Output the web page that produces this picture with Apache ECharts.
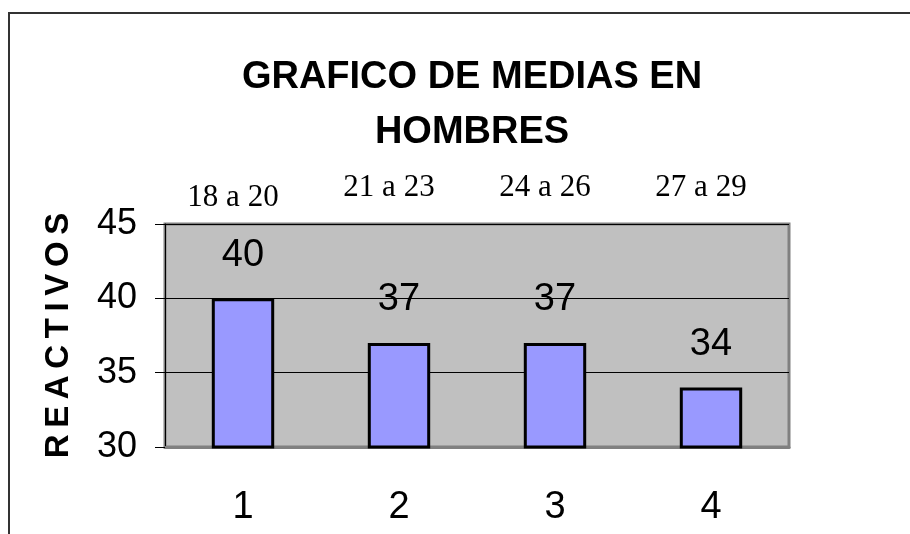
<!DOCTYPE html>
<html>
<head>
<meta charset="utf-8">
<script src="https://cdn.jsdelivr.net/npm/echarts@6/dist/echarts.min.js"></script>
<style>
  html, body { margin: 0; padding: 0; background: #fff; }
  #chart { width: 910px; height: 534px; }
</style>
</head>
<body>
<div id="chart"></div>
<script>
// datos
var categorias = ['1', '2', '3', '4']
var edades = ['18 a 20', '21 a 23', '24 a 26', '27 a 29']
var medias = [40, 37, 37, 34]

var sans = 'Arial, "Liberation Sans", sans-serif'

// la primera etiqueta de edad esta un poco mas abajo que las demas
var edadesData = edades.map(function (e, i) {
  return { value: e, textStyle: { padding: i === 0 ? [0, 20, 0, 0] : [0, 20, 10, 0] } }
})

var chart = echarts.init(document.getElementById('chart'))
chart.setOption({
  animation: false,
  backgroundColor: '#fff',
  graphic: [{
    type: 'rect',
    shape: { x: 9, y: 13, width: 1000, height: 1000 },
    style: { fill: 'none', stroke: '#333', lineWidth: 2 }
  }],
  title: {
    text: 'GRAFICO DE MEDIAS EN\nHOMBRES',
    left: 467,
    top: 45,
    textAlign: 'center',
    textStyle: {
      fontFamily: sans,
      fontWeight: 'bold',
      fontSize: 38,
      lineHeight: 55,
      color: '#000'
    }
  },
  grid: {
    left: 165,
    top: 224,
    right: 121,
    bottom: 87,
    show: true,
    backgroundColor: '#C0C0C0',
    borderColor: '#808080',
    borderWidth: 3
  },
  xAxis: [{
    type: 'category',
    data: categorias,
    position: 'bottom',
    axisLine: { lineStyle: { color: '#808080', width: 3 } },
    axisTick: { length: 14, lineStyle: { color: '#000', width: 1 } },
    axisLabel: {
      margin: 42,
      fontFamily: sans,
      fontSize: 38,
      color: '#000'
    }
  }, {
    type: 'category',
    data: edadesData,
    position: 'top',
    axisLine: { show: false },
    axisTick: { show: false },
    axisLabel: {
      margin: 11,
      fontFamily: '"Liberation Serif", "Times New Roman", serif',
      fontSize: 31,
      color: '#000'
    }
  }],
  yAxis: {
    type: 'value',
    min: 30,
    max: 45,
    interval: 5,
    name: 'R\u2009E\u2009A\u2009C\u2009T\u2009I\u2009V\u2009O\u2009S',
    nameLocation: 'middle',
    nameGap: 90,
    nameRotate: 90,
    nameTextStyle: {
      fontFamily: sans,
      fontWeight: 'bold',
      fontSize: 33,
      color: '#000'
    },
    axisLine: { show: true, lineStyle: { color: '#000', width: 1 } },
    axisTick: { show: true, length: 10, lineStyle: { color: '#000' } },
    axisLabel: {
      margin: 28,
      fontFamily: sans,
      fontSize: 36,
      color: '#000'
    },
    splitLine: { show: true, lineStyle: { color: '#000', width: 1 } }
  },
  series: [{
    type: 'bar',
    xAxisIndex: 0,
    data: medias,
    barWidth: '40%',
    itemStyle: {
      color: '#9999FF',
      borderColor: '#000',
      borderWidth: 3
    },
    label: {
      show: true,
      position: 'top',
      distance: 24,
      fontFamily: sans,
      fontSize: 38,
      color: '#000'
    }
  }]
})
</script>
</body>
</html>
